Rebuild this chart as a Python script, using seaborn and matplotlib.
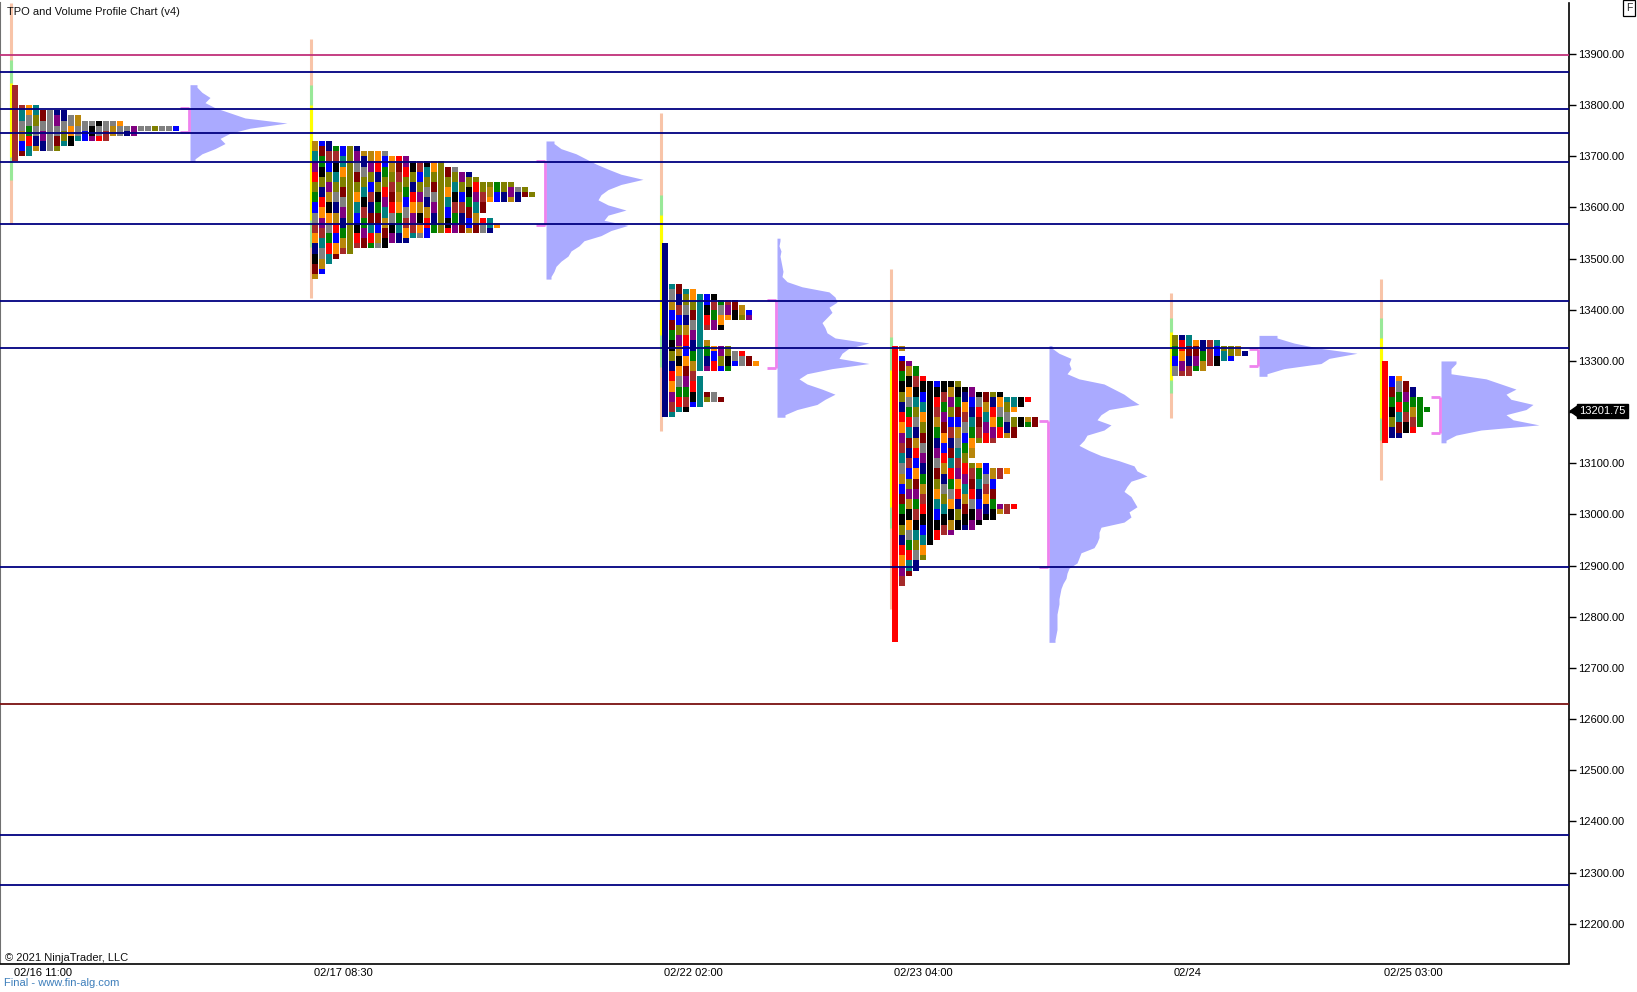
import numpy as np
import matplotlib
matplotlib.use("Agg")
import matplotlib.pyplot as plt
import matplotlib.transforms as mtransforms
import seaborn as sns

sns.set_style("white")
plt.rcParams["font.family"] = ["Liberation Sans", "DejaVu Sans"]

# ---------------- data ----------------
session_labels = ["02/16 11:00", "02/17 08:30", "02/22 02:00", "02/23 04:00", "02/24", "02/25 03:00"]
session_x = [11, 311, 661, 891, 1171, 1381]        # slot of session open
profile_x = [190, 546, 777, 1049, 1259, 1441]      # slot where volume profile starts

row_step = 10
tpo_top = [13835, 13725, 13525, 13325, 13345, 13295]
tpo_s1 = [1, 1, 1, 1, 4, 8, 10, 16, 24, 18, 14, 9, 7, 3, 1]
tpo_s2 = [3, 7, 11, 14, 19, 21, 23, 24, 29, 31, 32, 30, 25, 25, 24, 26, 27, 26, 17, 14, 11, 6, 4, 3, 2, 2, 1]
tpo_s3 = [1, 1, 1, 1, 1, 1, 1, 1, 3, 5, 8, 11, 12, 13, 13, 9, 9, 6, 6, 7, 10, 12, 13, 14, 10, 5, 6, 6, 6, 8, 9, 6, 4, 2]
tpo_s4 = [2, 1, 2, 3, 4, 4, 5, 10, 12, 16, 20, 19, 18, 17, 21, 21, 18, 18, 15, 12, 12, 12, 11, 14, 17, 16, 15, 15,
          15, 15, 15, 18, 17, 15, 13, 12, 9, 7, 6, 5, 5, 5, 4, 4, 3, 2, 2, 1, 1, 1, 1, 1, 1, 1, 1, 1, 1, 1]
tpo_s5 = [3, 7, 10, 11, 9, 7, 5, 3]
tpo_s6 = [1, 1, 1, 3, 4, 5, 5, 6, 6, 7, 6, 6, 6, 5, 3, 1]
tpo_counts = [tpo_s1, tpo_s2, tpo_s3, tpo_s4, tpo_s5, tpo_s6]

vol_top = [13835, 13725, 13535, 13325, 13345, 13295]
vol_s1 = [7, 12, 20, 15, 25, 40, 55, 97, 60, 40, 30, 35, 25, 12, 5]
vol_s2 = [8, 15, 30, 40, 50, 62, 75, 97, 75, 62, 55, 52, 62, 80, 62, 58, 82, 65, 55, 38, 33, 25, 22, 15, 10, 8, 5]
vol_s3 = [3, 2, 4, 3, 4, 5, 6, 5, 10, 25, 52, 58, 60, 52, 55, 50, 45, 48, 50, 58, 92, 72, 65, 62, 92, 55, 30, 22,
          30, 45, 58, 48, 40, 20, 8]
vol_s4 = [3, 10, 22, 20, 22, 18, 30, 55, 65, 75, 82, 90, 60, 52, 48, 62, 55, 38, 35, 30, 40, 52, 70, 85, 88, 98, 82,
          78, 75, 82, 85, 88, 80, 82, 75, 52, 50, 50, 48, 45, 32, 30, 28, 20, 18, 17, 14, 12, 11, 10, 10, 9, 8, 8, 8,
          8, 7, 6]
vol_s5 = [18, 35, 60, 98, 70, 62, 25, 8]
vol_s6 = [15, 10, 10, 45, 60, 75, 65, 70, 92, 85, 65, 72, 98, 40, 15, 5]
vol_widths = [vol_s1, vol_s2, vol_s3, vol_s4, vol_s5, vol_s6]

va_high = [13795, 13690, 13419, 13183, 13323, 13230]
va_low = [13747, 13566, 13287, 12898, 13290, 13160]

ext2_low = [13568, 13424, 13163, 12815, 13188, 13067]
ext2_high = [14000, 13930, 13785, 13480, 13432, 13460]
ext1_low = [13654, 13523, 13288, 12973, 13237, 13145]
ext1_high = [13888, 13839, 13624, 13347, 13384, 13384]
ib_low = [13699, 13575, 13351, 13015, 13263, 13189]
ib_high = [13843, 13800, 13585, 13282, 13357, 13345]

level_prices = [13899, 13864, 13792, 13745, 13688, 13567, 13417, 13325, 12897, 12630, 12373, 12275]
level_kinds = ["pivot", "level", "level", "level", "level", "level", "level", "level", "level", "low", "level", "level"]

last_price = 13201.75
y_ticks = list(range(12200, 14000, 100))

# ---------------- style ----------------
tpo_palette = sns.color_palette(["#ff0000", "#800000", "#a52a2a", "#808000", "#b8860b", "#ff8c00", "#008000",
                                 "#008080", "#000080", "#0000ff", "#800080", "#000000", "#808080"])
first_col_color = ["#a52a2a", None, "#000080", "#ff0000", None, "#ff0000"]
level_color = {"pivot": "#c0307a", "level": "#000080", "low": "#7a1010"}
vol_color = "#aaaaff"
va_color = "#ee82ee"
col_pitch, col_w = 7, 6

W, H = 1637, 992
fig = plt.figure(figsize=(W / 100, H / 100), dpi=100)
ax_left, ax_right, ax_top, ax_bot = 0, 1569, 3, 963.5
ax = fig.add_axes([ax_left / W, 1 - ax_bot / H, (ax_right - ax_left) / W, (ax_bot - ax_top) / H])
ax.set_xlim(0, 1569)
ax.set_ylim(12122.2, 13999.7)

# range / initial balance lines at session open
ax.vlines(session_x, ext2_low, ext2_high, color="#f8c4a8", lw=2.2, zorder=2)
ax.vlines(session_x, ext1_low, ext1_high, color="#98e898", lw=2.2, zorder=2)
ax.vlines(session_x, ib_low, ib_high, color="#ffff00", lw=2.2, zorder=2)

# TPO profiles
for s, counts in enumerate(tpo_counts):
    ys, lefts, cols = [], [], []
    for r, n in enumerate(counts):
        price = tpo_top[s] - r * row_step
        for k in range(n):
            ys.append(price)
            lefts.append(session_x[s] + 1 + k * col_pitch)
            if k == 0 and first_col_color[s] is not None:
                cols.append(first_col_color[s])
            else:
                seg = (r + (k % 3)) // 2
                cols.append(tpo_palette[(3 * seg + 5 * k + 2 * seg * k + 4 * s) % len(tpo_palette)])
    ax.barh(ys, col_w, left=lefts, height=row_step, color=cols, linewidth=0, antialiased=False, zorder=3)

# volume profiles (row values joined point to point)
for s, widths in enumerate(vol_widths):
    ys = [vol_top[s] - r * row_step for r in range(len(widths))]
    yy = [ys[0] + row_step / 2] + ys + [ys[-1] - row_step / 2]
    ww = [widths[0]] + list(widths) + [widths[-1]]
    ax.fill_betweenx(yy, profile_x[s], [profile_x[s] + w for w in ww], color=vol_color, linewidth=0, zorder=3)

# value area brackets
for s in range(len(profile_x)):
    xb = profile_x[s] - 1.5
    ax.vlines(xb, va_low[s], va_high[s], color=va_color, lw=2, zorder=4)
    ax.hlines([va_low[s], va_high[s]], xb - 9, xb, color=va_color, lw=2, zorder=4)

# horizontal levels
for p, kind in zip(level_prices, level_kinds):
    ax.axhline(p, color=level_color[kind], lw=1.3, zorder=5)

# axes styling
ax.spines["top"].set_visible(False)
ax.spines["right"].set_color("black")
ax.spines["right"].set_linewidth(1.2)
ax.spines["bottom"].set_color("black")
ax.spines["bottom"].set_linewidth(1.2)
ax.spines["left"].set_color("#707070")
ax.spines["left"].set_linewidth(1.5)

ax.yaxis.tick_right()
ax.set_yticks(y_ticks)
ax.set_yticklabels(["" if v == 13200 else f"{v:.2f}" for v in y_ticks])
ax.tick_params(axis="y", which="major", right=True, left=False, length=5, width=1, pad=1.5,
               labelsize=8, colors="black", direction="out")

ax.set_xticks(session_x)
ax.set_xticklabels(session_labels)
ax.tick_params(axis="x", which="major", bottom=True, length=0, pad=3, labelsize=8, colors="black")
offset = mtransforms.ScaledTranslation(3 / 100, 0, fig.dpi_scale_trans)
for lab in ax.get_xticklabels():
    lab.set_horizontalalignment("left")
    lab.set_transform(lab.get_transform() + offset)
ax.grid(False)

# texts
ax.text(7 / 1569, 1 - 8.7 / 960.5, "TPO and Volume Profile Chart (v4)", transform=ax.transAxes,
        ha="left", va="center", fontsize=8, color="#111111")
ax.text(5 / 1569, 5.5 / 960.5, "© 2021 NinjaTrader, LLC", transform=ax.transAxes,
        ha="left", va="center", fontsize=8, color="#111111")
fig.text(4 / W, 1 - 983.3 / H, "Final - www.fin-alg.com", ha="left", va="center", fontsize=8, color="#3d7ebb")
fig.text(1629 / W, 1 - 8 / H, "F", ha="center", va="center", fontsize=7.5,
         bbox=dict(boxstyle="square,pad=0.25", fc="white", ec="black", lw=0.9))

# last price marker
blend = mtransforms.blended_transform_factory(ax.transAxes, ax.transData)
h = 5.6 / 0.5116
ax.fill([1570 / 1569, 1578 / 1569, 1578 / 1569], [last_price, last_price + h, last_price - h],
        color="black", transform=blend, clip_on=False, zorder=10)
ax.text(1579.5 / 1569, last_price, f"{last_price:.2f}", transform=blend, ha="left", va="center",
        fontsize=8, color="white", clip_on=False, zorder=11,
        bbox=dict(boxstyle="square,pad=0.2", fc="black", ec="black"))

fig.savefig("out.png", dpi=100, facecolor="white")
